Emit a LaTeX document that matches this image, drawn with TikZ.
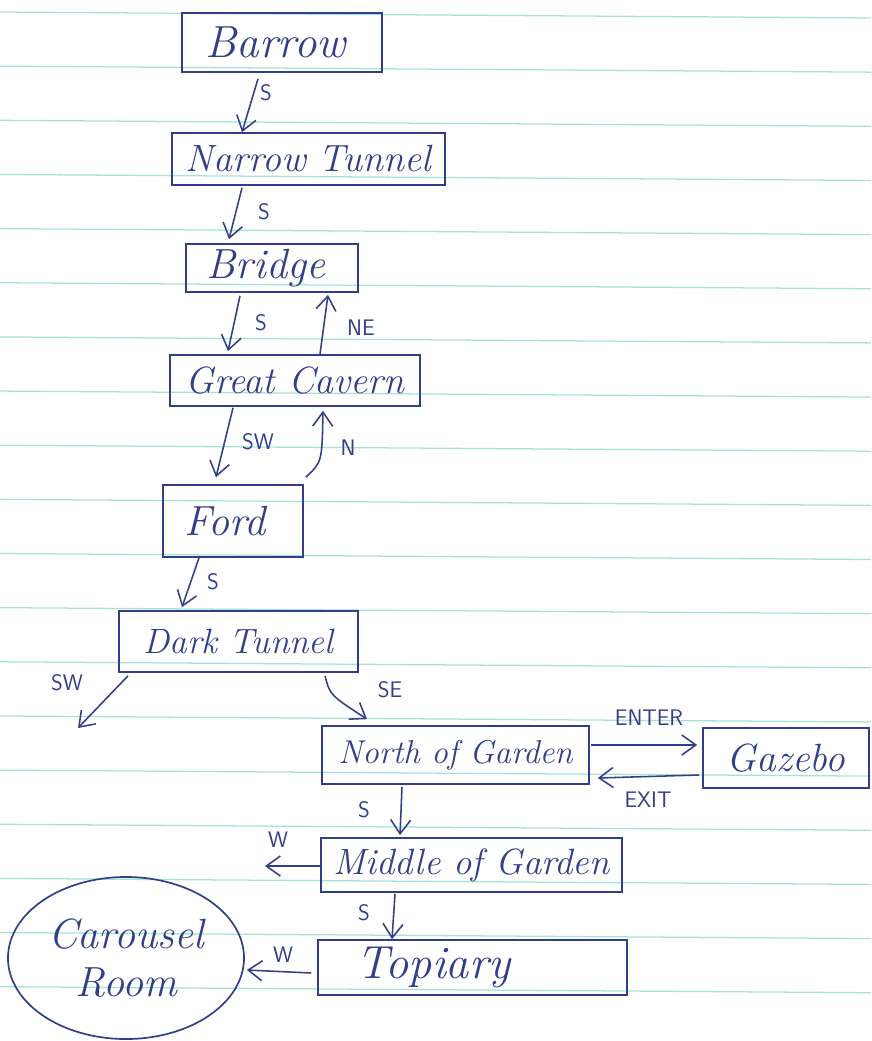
\documentclass[tikz,border=0pt]{standalone}
\usetikzlibrary{arrows.meta,calc,shapes.geometric}
\definecolor{ink}{RGB}{50,62,138}
\definecolor{paperrule}{RGB}{165,228,212}
\tikzset{
  room/.style={draw=ink, line width=1.2pt, text=ink, inner sep=0pt,
    font=\fontsize{27}{33}\selectfont\itshape},
  dirlabel/.style={text=ink, font=\fontsize{16}{18}\selectfont\sffamily, inner sep=0pt},
  arr/.style={draw=ink, line width=1.1pt, -{Straight Barb[length=3.5mm,width=5mm]}},
  ruling/.style={draw=paperrule, line width=0.9pt}
}
\begin{document}
\begin{tikzpicture}[x=0.025cm,y=-0.025cm]
\useasboundingbox (0,0) rectangle (871,1041);
\fill[white] (0,0) rectangle (871,1041);
\foreach \n in {0,...,18} \draw[ruling] (0,{12+54.15*\n}) -- (871,{18+54.15*\n});

% rooms
\node[room, minimum width=5cm,     minimum height=1.475cm, font=\fontsize{32}{38}\selectfont\itshape] (barrow) at (282,42.5) {\hspace*{-0.3cm}Barrow};
\node[room, minimum width=6.825cm, minimum height=1.3cm]   (nt)     at (308.5,159) {Narrow Tunnel};
\node[room, minimum width=4.3cm,   minimum height=1.2cm, font=\fontsize{30}{36}\selectfont\itshape]   (bridge) at (272,268) {\hspace*{-0.3cm}Bridge};
\node[room, minimum width=6.25cm,  minimum height=1.275cm] (gc)     at (295,380.5) {Great Cavern};
\node[room, minimum width=3.5cm,   minimum height=1.8cm, font=\fontsize{30}{36}\selectfont\itshape]   (ford)   at (233,521) {\hspace*{-0.4cm}Ford};
\node[room, minimum width=5.975cm, minimum height=1.525cm, font=\fontsize{25}{30}\selectfont\itshape] (dt)     at (238.5,641.5) {Dark Tunnel};
\node[room, minimum width=6.675cm, minimum height=1.45cm, font=\fontsize{23.5}{28}\selectfont\itshape]  (nog)    at (455.5,755) {North of Garden};
\node[room, minimum width=4.15cm,  minimum height=1.5cm, font=\fontsize{28}{33}\selectfont\itshape]   (gaz)    at (786,758) {Gazebo};
\node[room, minimum width=7.525cm, minimum height=1.35cm, font=\fontsize{26}{31}\selectfont\itshape]  (mog)    at (471.5,865) {Middle of Garden};
\node[room, minimum width=7.725cm, minimum height=1.375cm, font=\fontsize{33}{38}\selectfont\itshape] (top)    at (472.5,967.5) {\hspace*{-1.95cm}Topiary};
\node[room, ellipse, minimum width=5.9cm, minimum height=4.05cm, align=center, font=\fontsize{30}{34}\selectfont\itshape] (car) at (126,958) {Carousel\\Room};

% dangling ends
\coordinate (swend) at (78,728);
\coordinate (wend) at (265,866);

% connectors
\draw[arr] ($(barrow.south)+(-24,6)$) -- ($(nt.north)+(-66.5,0)$);
\draw[arr] ($(nt.south)+(-66.5,2)$) -- ($(bridge.north)+(-43,-4)$);
\draw[arr] ($(bridge.south)+(-32,3)$) -- ($(gc.north)+(-67,-3)$);
\draw[arr] ($(gc.north)+(25,0)$) -- ($(bridge.south)+(56,2)$);
\draw[arr] ($(gc.south)+(-62,1)$) -- ($(ford.north)+(-17,-7)$);
\draw[arr] ($(ford.north east)+(2,-7)$) .. controls (322,462) .. ($(gc.south)+(28,4)$);
\draw[arr] ($(ford.south)+(-34,0)$) -- ($(dt.north)+(-56.5,-3)$);
\draw[arr] ($(dt.south)+(-110.5,3)$) -- (swend);
\draw[arr] ($(dt.south)+(86.5,3)$) .. controls (330,695) .. ($(nog.north)+(-88.5,-6)$);
\draw[arr] ($(nog.east)+(1,-10)$) -- ($(gaz.west)+(-5,-13)$);
\draw[arr] ($(gaz.west)+(-3,17)$) -- ($(nog.east)+(8,23)$);
\draw[arr] ($(nog.south)+(-53.5,2)$) -- ($(mog.north)+(-71.5,-2)$);
\draw[arr] ($(mog.west)+(0,1)$) -- (wend);
\draw[arr] ($(mog.south)+(-76.5,1)$) -- ($(top.north)+(-80.5,0)$);
\draw[arr] ($(top.west)+(-6,5.5)$) -- ($(car.east)+(2,12)$);

% labels
\node[dirlabel] (l1)  at (266,93) {S};
\node[dirlabel] (l2)  at (264,212) {S};
\node[dirlabel] (l3)  at (261,323) {S};
\node[dirlabel] (l4)  at (361,328) {NE};
\node[dirlabel] (l5)  at (258,442) {SW};
\node[dirlabel] (l6)  at (348,448) {N};
\node[dirlabel] (l7)  at (213,582) {S};
\node[dirlabel] (l8)  at (67,683) {SW};
\node[dirlabel] (l9)  at (390,690) {SE};
\node[dirlabel] (l10) at (649,718) {ENTER};
\node[dirlabel] (l11) at (648,800) {EXIT};
\node[dirlabel] (l12) at (364,810) {S};
\node[dirlabel] (l13) at (278,840) {W};
\node[dirlabel] (l14) at (364,913) {S};
\node[dirlabel] (l15) at (283,955) {W};
\end{tikzpicture}
\end{document}
